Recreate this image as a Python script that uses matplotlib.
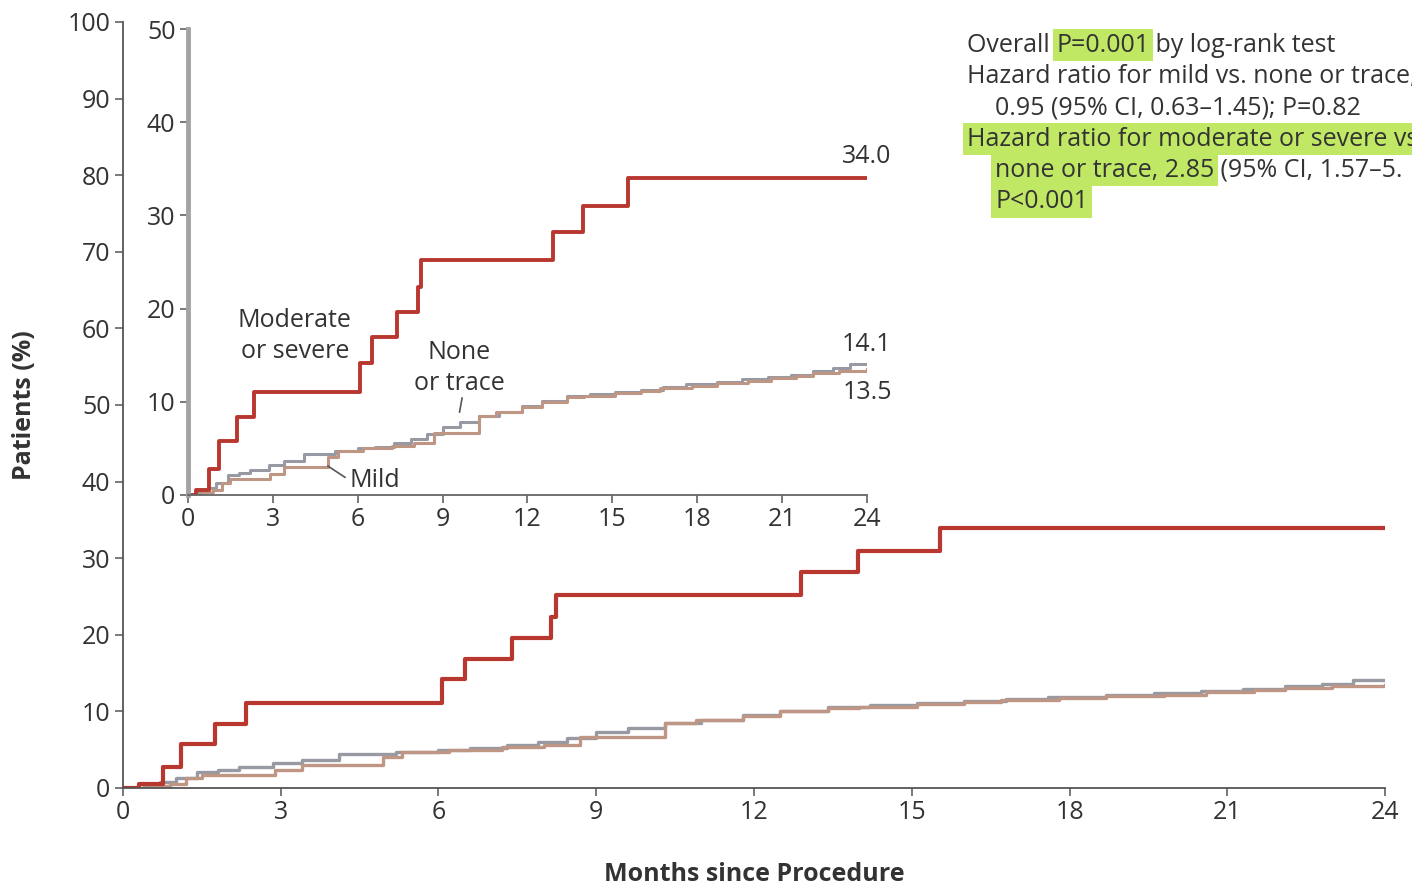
import matplotlib
matplotlib.use('Agg')
import matplotlib.pyplot as plt

plt.rcParams['font.family'] = ['Open Sans', 'DejaVu Sans']

# Kaplan-Meier style step data (months, % of patients)
mod_t = [0, 0.3, 0.76, 1.1, 1.75, 2.34, 6.07, 6.5, 7.4, 8.14, 8.23, 12.9, 13.98, 15.54, 24]
mod_v = [0, 0.5, 2.8, 5.8, 8.4, 11.1, 14.2, 16.9, 19.6, 22.3, 25.2, 28.2, 31.0, 34.0, 34.0]

none_t = [0, 0.4, 0.7, 1.0, 1.4, 1.8, 2.2, 2.85, 3.4, 4.1, 5.2, 6.0, 6.6, 7.3, 7.9, 8.45,
          9.0, 9.6, 10.3, 11.0, 11.8, 12.5, 13.4, 14.2, 15.1, 16.0, 16.8, 17.6, 18.7,
          19.6, 20.5, 21.3, 22.1, 22.8, 23.4, 24]
none_v = [0, 0.3, 0.8, 1.3, 2.1, 2.4, 2.7, 3.2, 3.6, 4.4, 4.7, 5.0, 5.2, 5.6, 6.0, 6.5,
          7.3, 7.8, 8.5, 8.9, 9.5, 10.1, 10.6, 10.8, 11.1, 11.3, 11.6, 11.9, 12.1,
          12.4, 12.7, 12.9, 13.3, 13.6, 14.1, 14.1]

mild_t = [0, 0.5, 0.9, 1.2, 1.5, 2.9, 3.4, 4.95, 5.3, 6.2, 7.2, 8.0, 8.7, 9.3, 10.3,
          10.9, 11.8, 12.5, 13.4, 14.0, 15.1, 16.0, 16.7, 17.8, 18.7, 19.8, 20.6,
          21.5, 22.1, 23.0, 24]
mild_v = [0, 0.3, 0.5, 1.3, 1.7, 2.3, 3.0, 4.1, 4.7, 5.0, 5.3, 5.6, 6.6, 6.6, 8.5,
          8.9, 9.4, 10.0, 10.5, 10.6, 10.9, 11.2, 11.5, 11.7, 12.0, 12.2, 12.5,
          12.8, 13.1, 13.3, 13.5]

end_labels = ['34.0', '14.1', '13.5']
x_ticks = list(range(0, 25, 3))
main_y_ticks = list(range(0, 101, 10))
inset_y_ticks = list(range(0, 51, 10))

RED = '#b8372f'
GRAY = '#979aa3'
MILD = '#bf9583'
TXT = '#333333'
HL = '#c0e864'
FS = 18

fig = plt.figure(figsize=(14.12, 8.93), dpi=100)
ax = fig.add_axes([0.0871, 0.1176, 0.8938, 0.8578])
ins = fig.add_axes([0.1331, 0.4457, 0.4809, 0.5218])
ins.patch.set_alpha(0)


def draw_curves(a, lw_red, lw_other):
    a.step(none_t, none_v, where='post', color=GRAY, lw=lw_other)
    a.step(mild_t, mild_v, where='post', color=MILD, lw=lw_other)
    a.step(mod_t, mod_v, where='post', color=RED, lw=lw_red)


def style_axes(a, ymax, yticks, left_color, left_lw, bottom_color):
    a.set_xlim(0, 24)
    a.set_ylim(0, ymax)
    a.set_xticks(x_ticks)
    a.set_yticks(yticks)
    for s in ['top', 'right']:
        a.spines[s].set_visible(False)
    a.spines['left'].set_color(left_color)
    a.spines['left'].set_linewidth(left_lw)
    a.spines['bottom'].set_color(bottom_color)
    a.spines['bottom'].set_linewidth(1.3)
    a.tick_params(direction='out', length=6, width=1.1, colors='#555555',
                  labelcolor=TXT, labelsize=FS, pad=3)


draw_curves(ax, 3.0, 2.4)
style_axes(ax, 100, main_y_ticks, '#555555', 1.3, '#555555')
ax.set_xlabel('Months since Procedure', fontsize=FS, fontweight='bold', color=TXT, labelpad=26)
ax.set_ylabel('Patients (%)', fontsize=FS, fontweight='bold', color=TXT, labelpad=22)

draw_curves(ins, 2.8, 2.2)
style_axes(ins, 50, inset_y_ticks, '#a3a3a3', 3.5, '#666666')

# end-of-curve values
for lab, yv in zip(end_labels, [36.3, 16.2, 11.05]):
    ins.text(24, yv, lab, ha='center', va='center', fontsize=FS, color=TXT)

# curve labels
ins.text(3.78, 17.05, 'Moderate\nor severe', ha='center', va='center', fontsize=FS,
         color=TXT, linespacing=1.3)
ins.text(9.58, 13.6, 'None\nor trace', ha='center', va='center', fontsize=FS,
         color=TXT, linespacing=1.3)
ins.text(5.7, 1.6, 'Mild', ha='left', va='center', fontsize=FS, color=TXT)
ins.plot([5.55, 4.95], [1.9, 3.1], color='#555555', lw=1.2)
ins.plot([9.69, 9.6], [10.4, 8.9], color='#555555', lw=1.2)

# statistics block with highlighted pieces
fig.canvas.draw()
renderer = fig.canvas.get_renderer()
W, H = fig.get_size_inches() * fig.dpi


def write_line(x_px, y_px, parts):
    x = x_px
    for txt, hl in parts:
        kw = {}
        if hl:
            kw['bbox'] = dict(boxstyle='square,pad=0.15', fc=HL, ec='none')
        t = fig.text(x / W, 1 - y_px / H, txt, fontsize=FS, color=TXT,
                     ha='left', va='center', **kw)
        bb = t.get_window_extent(renderer=renderer)
        x += bb.width


write_line(967, 45, [('Overall ', False), ('P=0.001', True), (' by log-rank test', False)])
write_line(967, 77, [('Hazard ratio for mild vs. none or trace,', False)])
write_line(995, 108, [('0.95 (95% CI, 0.63\u20131.45); P=0.82', False)])
write_line(967, 139, [('Hazard ratio for moderate or severe vs.', True)])
write_line(995, 170, [('none or trace, 2.85', True), (' (95% CI, 1.57\u20135.', False)])
write_line(995, 202, [('P<0.001', True)])

fig.savefig('out.png', dpi=100)
